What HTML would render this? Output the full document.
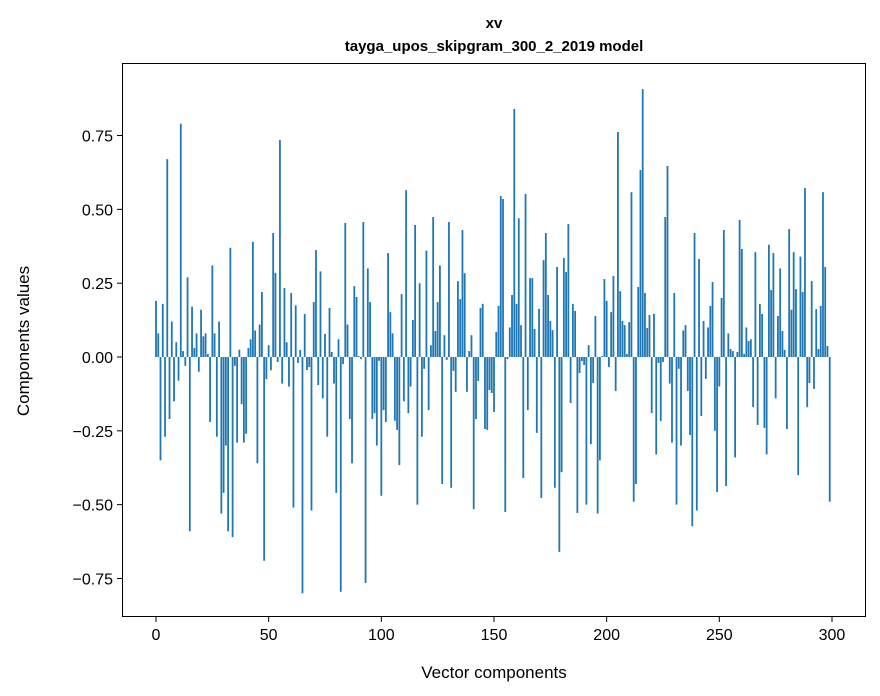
<!DOCTYPE html>
<html><head><meta charset="utf-8"><style>
html,body{margin:0;padding:0;background:#fff;}
svg{display:block;font-family:"Liberation Sans",sans-serif;}
</style></head><body>
<svg id="s" width="880" height="696" viewBox="0 0 880 696" xmlns="http://www.w3.org/2000/svg">
<rect width="880" height="696" fill="#fff"/>
<text x="494" y="28" text-anchor="middle" font-size="15" font-weight="bold">xv</text>
<text x="494" y="51" text-anchor="middle" font-size="15" font-weight="bold">tayga_upos_skipgram_300_2_2019 model</text>
<g id="bars" fill="#1f77b4"></g>
<rect x="122.5" y="63.5" width="743" height="553" fill="none" stroke="#000" stroke-width="1"/>
<g id="ticks" stroke="#000" stroke-width="1"></g>
<g id="labels" font-size="16" fill="#000"></g>
<text x="494" y="678" text-anchor="middle" font-size="17">Vector components</text>
<text transform="translate(29,341) rotate(-90)" text-anchor="middle" font-size="17">Components values</text>
</svg>
<script>
var v=[0.19,0.08,-0.35,0.18,-0.27,0.67,-0.21,0.12,-0.15,0.05,-0.08,0.79,0.02,-0.03,0.27,-0.59,0.17,0.03,0.08,-0.05,0.16,0.07,0.08,0.01,-0.22,0.31,0.08,-0.27,0.12,-0.53,-0.46,-0.3,-0.59,0.37,-0.61,-0.03,-0.29,0.025,-0.16,-0.29,-0.26,0.03,0.06,0.39,0.09,-0.36,0.11,0.22,-0.69,-0.075,0.04,-0.045,0.42,0.285,-0.017,0.735,-0.09,0.234,0.05,-0.1,
0.217,-0.51,0.175,-0.02,0.024,-0.8,0.146,-0.044,-0.034,-0.52,0.186,0.362,-0.095,0.29,-0.14,0.078,-0.27,0.166,0.017,-0.09,-0.46,0.06,-0.795,-0.024,0.454,0.11,-0.21,-0.36,0.24,0.203,0.003,-0.007,0.457,-0.765,0.3,0.186,-0.21,-0.19,-0.3,-0.013,-0.47,-0.18,-0.22,0.352,0.152,0.08,-0.216,-0.247,-0.366,0.213,-0.15,0.565,-0.19,-0.1,0.125,0.447,-0.5,0.25,-0.27,-0.04,
0.36,-0.18,0.04,0.474,0.088,0.186,0.31,-0.43,0.074,-0.01,0.457,-0.443,-0.047,-0.118,0.257,0.196,0.43,0.284,-0.118,0.02,0.074,-0.515,-0.21,-0.081,0.166,0.18,-0.244,-0.247,-0.112,-0.122,-0.186,0.085,0.173,0.545,0.535,-0.525,-0.007,0.1,0.21,0.84,0.18,0.47,0.108,-0.41,0.552,-0.18,0.267,0.267,0.095,-0.257,0.163,-0.477,0.328,0.42,0.21,0.122,0.091,-0.443,0.305,-0.66,
-0.39,0.335,0.288,0.45,-0.156,0.18,0.156,-0.528,-0.054,-0.014,-0.027,-0.5,0.04,-0.295,-0.088,0.139,-0.53,-0.35,0.003,0.264,0.19,-0.034,0.152,0.274,-0.115,0.762,0.223,0.122,0.108,0.01,0.118,0.558,-0.49,-0.43,0.237,0.633,0.907,0.217,0.098,0.142,-0.19,0.146,-0.33,-0.02,-0.217,-0.017,0.474,0.647,-0.09,-0.29,0.217,-0.5,-0.04,-0.3,0.09,0.108,-0.115,-0.264,-0.573,
0.42,-0.52,0.332,-0.2,0.122,-0.074,0.1,0.173,0.254,-0.25,-0.457,-0.1,0.2,0.43,-0.437,0.08,0.027,0.02,-0.34,0.017,0.464,0.366,0.01,0.1,0.054,0.06,-0.17,0.355,-0.23,0.18,0.146,-0.24,-0.33,0.38,0.227,0.352,-0.14,0.139,0.3,0.088,0.024,-0.244,0.433,0.16,0.355,0.23,-0.4,0.34,0.22,0.572,-0.17,-0.088,0.257,-0.108,0.162,0.027,0.173,0.558,0.305,0.037,-0.49];
var NS="http://www.w3.org/2000/svg";
function el(t,a,p){var e=document.createElementNS(NS,t);for(var k in a)e.setAttribute(k,a[k]);p.appendChild(e);return e;}
var X=function(i){return 156+i*2.2533;}, Y=function(val){return 357-val*295.3;};
var g=document.getElementById('bars');
for(var i=0;i<v.length;i++){var y0=Y(0),y1=Y(v[i]);el('rect',{x:X(i)-0.9,y:Math.min(y0,y1),width:1.8,height:Math.max(0.3,Math.abs(y1-y0))},g);}
var tk=document.getElementById('ticks'),lb=document.getElementById('labels');
for(var t=0;t<=300;t+=50){var x=X(t);el('line',{x1:x,y1:617,x2:x,y2:622},tk);var e=el('text',{x:x,y:640,'text-anchor':'middle'},lb);e.textContent=t;}
var ys=[0.75,0.5,0.25,0,-0.25,-0.5,-0.75];
ys.forEach(function(val){var y=Y(val);el('line',{x1:117,y1:y,x2:122,y2:y},tk);var e=el('text',{x:113,y:y+6,'text-anchor':'end'},lb);e.textContent=(val<0?'\u2212':'')+Math.abs(val).toFixed(2);});
</script>
</body></html>
